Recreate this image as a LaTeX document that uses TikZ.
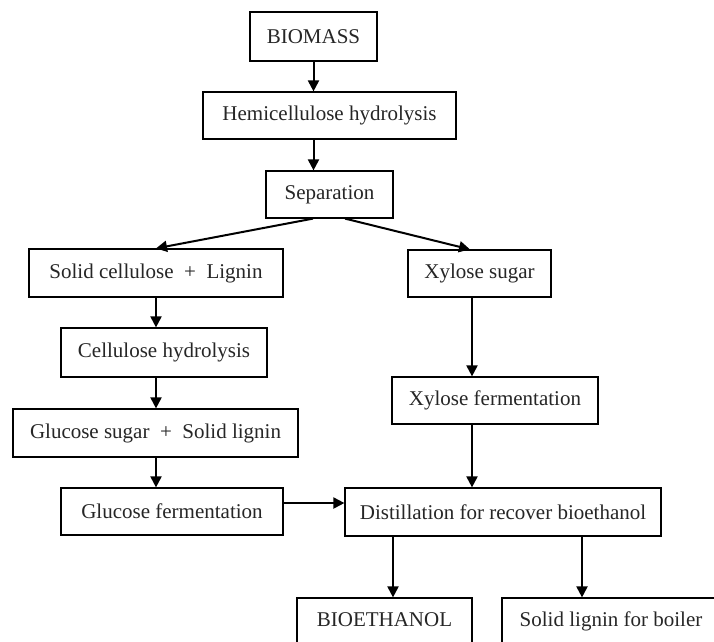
\documentclass[tikz,border=0pt]{standalone}
\usepackage{fontspec}
\setmainfont{Liberation Serif}
\usetikzlibrary{arrows.meta}
\begin{document}
\begin{tikzpicture}[x=1pt,y=-1pt,
	box/.style={draw,line width=1.2pt,inner sep=0pt,text=black!85,font=\fontsize{21}{25}\selectfont},
	flow/.style={-{Triangle[length=11pt,width=11pt]},line width=2pt}]
	\clip (0,0) rectangle (714,641);
	\fill[white] (0,0) rectangle (714,641);

	\node[box,minimum width=127pt,minimum height=49pt] (biomass) at (313.5,36.5) {BIOMASS};
	\node[box,minimum width=253pt,minimum height=47pt] (hemi) at (329.5,115.5) {Hemicellulose hydrolysis};
	\node[box,minimum width=127pt,minimum height=47pt] (sep) at (329.5,194.5) {Separation};

	\node[box,minimum width=254pt,minimum height=48pt] (solid) at (156,273) {Solid cellulose \ + \ Lignin};
	\node[box,minimum width=206pt,minimum height=49pt] (cellhyd) at (164,352.5) {Cellulose hydrolysis};
	\node[box,minimum width=285pt,minimum height=48pt] (glusug) at (155.5,433) {Glucose sugar \ + \ Solid lignin};
	\node[box,minimum width=222pt,minimum height=47pt] (glufer) at (172,511.5) {Glucose fermentation};

	\node[box,minimum width=143pt,minimum height=47pt] (xylsug) at (479.5,273.5) {Xylose sugar};
	\node[box,minimum width=206pt,minimum height=47pt] (xylfer) at (495,400.5) {Xylose fermentation};
	\node[box,minimum width=316pt,minimum height=48pt] (dist) at (503,512) {Distillation for recover bioethanol};

	\node[box,minimum width=175pt,minimum height=60pt,text height=15pt,text depth=19pt] (bioeth) at (384.5,628) {BIOETHANOL};
	\node[box,minimum width=218pt,minimum height=60pt,text height=15pt,text depth=19pt] (lignin) at (611,628) {Solid lignin for boiler};

	\coordinate (s1) at ([xshift=-16.5pt]sep.south);
	\coordinate (s2) at ([xshift=15.5pt]sep.south);
	\coordinate (x0) at ([xshift=-9.5pt]xylsug.north);
	\coordinate (x1) at ([xshift=-7.5pt]xylsug.south);
	\coordinate (g1) at ([yshift=8.5pt]glufer.east);
	\coordinate (d1) at ([xshift=-110pt]dist.south);
	\coordinate (d2) at ([xshift=79pt]dist.south);

	\draw[flow] (biomass.south) -- (biomass.south |- hemi.north);
	\draw[flow] (biomass.south |- hemi.south) -- (biomass.south |- sep.north);
	\draw[flow] (s1) -- (solid.north);
	\draw[flow] (s2) -- (x0);
	\draw[flow] (solid.south) -- (solid.south |- cellhyd.north);
	\draw[flow] (cellhyd.south -| solid.south) -- (solid.south |- glusug.north);
	\draw[flow] (solid.south |- glusug.south) -- (solid.south |- glufer.north);
	\draw[flow] (x1) -- (x1 |- xylfer.north);
	\draw[flow] (x1 |- xylfer.south) -- (x1 |- dist.north);
	\draw[flow] (g1) -- (g1 -| dist.west);
	\draw[flow] (d1) -- (d1 |- bioeth.north);
	\draw[flow] (d2) -- (d2 |- lignin.north);
\end{tikzpicture}
\end{document}
